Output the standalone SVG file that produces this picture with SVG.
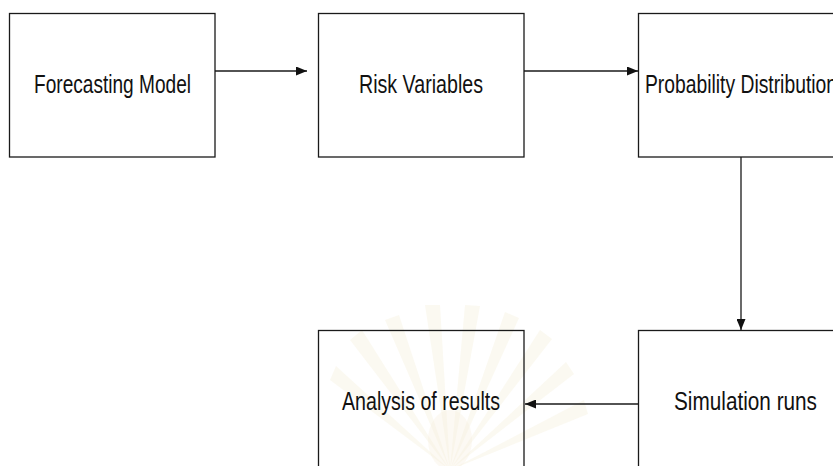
<svg xmlns="http://www.w3.org/2000/svg" width="833" height="466" viewBox="0 0 833 466">
  <style>
    .box { fill: none; stroke: #1a1a1a; stroke-width: 1.3; }
    .lbl { font-family: "Liberation Sans", Arial, sans-serif; font-size: 25.5px; fill: #111; }
    .edge { fill: none; stroke: #1a1a1a; stroke-width: 1.3; marker-end: url(#head); }
    .ray { fill: #f3ead2; opacity: 0.3; }
  </style>
  <defs>
    <marker id="head" viewBox="0 0 11 9" refX="11" refY="4.5" markerWidth="11" markerHeight="9" markerUnits="userSpaceOnUse" orient="auto">
      <path d="M0,0 L11,4.5 L0,9 Z" fill="#111"/>
    </marker>
  </defs>
  <rect width="833" height="466" fill="#fff"/>

  <!-- faint emblem in the background -->
  <g id="emblem">
    <path class="ray" d="M450,470 L330,380 L336,366 Z"/>
    <path class="ray" d="M450,470 L350,340 L362,330 Z"/>
    <path class="ray" d="M450,470 L385,320 L399,315 Z"/>
    <path class="ray" d="M450,470 L425,305 L440,305 Z"/>
    <path class="ray" d="M450,470 L465,305 L480,306 Z"/>
    <path class="ray" d="M450,470 L505,312 L519,318 Z"/>
    <path class="ray" d="M450,470 L540,330 L552,339 Z"/>
    <path class="ray" d="M450,470 L566,362 L574,374 Z"/>
    <path class="ray" d="M450,470 L584,400 L588,414 Z"/>
    <ellipse cx="450" cy="440" rx="22" ry="30" fill="#f6efdc" opacity="0.35"/>
  </g>

  <g id="forecasting-model">
    <rect class="box" x="9.5" y="13.5" width="205.5" height="143.5"/>
    <text class="lbl" x="34" y="93" textLength="157" lengthAdjust="spacingAndGlyphs">Forecasting Model</text>
  </g>
  <g id="risk-variables">
    <rect class="box" x="318.5" y="13.5" width="205.5" height="143.5"/>
    <text class="lbl" x="359" y="93" textLength="124" lengthAdjust="spacingAndGlyphs">Risk Variables</text>
  </g>
  <g id="probability-distribution">
    <rect class="box" x="638.5" y="13.5" width="206" height="143.5"/>
    <text class="lbl" x="645" y="93" textLength="192" lengthAdjust="spacingAndGlyphs">Probability Distribution</text>
  </g>
  <g id="simulation-runs">
    <rect class="box" x="638.5" y="330.5" width="206" height="150"/>
    <text class="lbl" x="674" y="410" textLength="143" lengthAdjust="spacingAndGlyphs">Simulation runs</text>
  </g>
  <g id="analysis-of-results">
    <rect class="box" x="318.5" y="330.5" width="205.5" height="150"/>
    <text class="lbl" x="342" y="410" textLength="158" lengthAdjust="spacingAndGlyphs">Analysis of results</text>
  </g>

  <g id="connectors">
    <line class="edge" x1="215" y1="71" x2="307" y2="71"/>
    <line class="edge" x1="524" y1="71" x2="638" y2="71"/>
    <line class="edge" x1="741" y1="157" x2="741" y2="330"/>
    <line class="edge" x1="638" y1="404" x2="525" y2="404"/>
  </g>
</svg>
